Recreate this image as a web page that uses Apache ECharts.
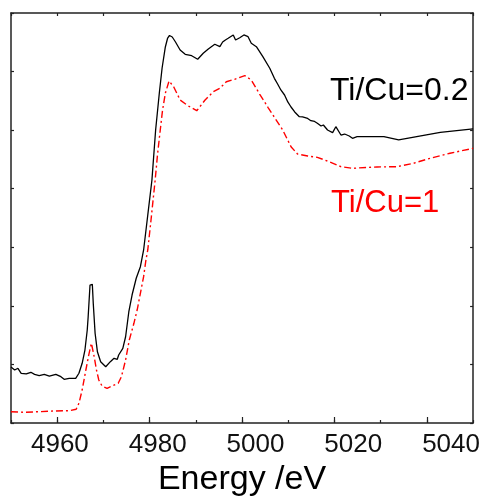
<!DOCTYPE html>
<html>
<head>
<meta charset="utf-8">
<script src="https://cdn.jsdelivr.net/npm/echarts@6/dist/echarts.min.js"></script>
<style>
html,body{margin:0;padding:0;background:#fff;}
#chart{width:483px;height:502px;}
</style>
</head>
<body>
<div id="chart"></div>
<script>
// Energy (eV) and normalized absorbance
const energyA = [4950.0,4950.8,4951.5,4952.2,4953.3,4954.3,4955.1,4956.1,4957.2,4958.3,4959.7,4960.8,4961.5,4962.6,4964.0,4964.7,4965.4,4966.0,4966.5,4966.7,4967.1,4967.6,4967.8,4968.2,4968.7,4969.4,4970.5,4971.5,4972.3,4973.0,4973.3,4974.2,4974.8,4975.5,4976.2,4977.1,4978.0,4978.7,4979.6,4980.5,4981.3,4982.1,4982.7,4983.4,4983.9,4984.3,4984.9,4985.6,4986.6,4987.7,4989.1,4990.4,4991.6,4992.7,4994.1,4995.2,4995.8,4996.4,4997.0,4997.4,4998.1,4998.6,4999.5,5000.4,5001.3,5002.0,5003.1,5004.5,5006.0,5007.0,5007.7,5008.4,5009.2,5009.9,5010.6,5011.4,5012.4,5013.1,5014.2,5014.9,5015.7,5016.3,5017.1,5017.6,5018.5,5019.6,5020.3,5021.4,5022.2,5023.2,5023.9,5024.9,5030.7,5033.9,5037.8,5042.9,5050.0];
const absA = [0.956,0.905,0.934,0.849,0.837,0.866,0.831,0.808,0.831,0.802,0.831,0.791,0.746,0.763,0.763,0.849,1.019,1.246,1.588,1.815,2.356,2.368,2.044,1.532,1.217,1.047,0.961,1.047,1.105,1.088,1.161,1.275,1.473,1.900,2.185,2.471,2.669,2.954,3.551,4.149,5.003,5.634,6.061,6.420,6.573,6.616,6.590,6.505,6.368,6.295,6.271,6.210,6.312,6.386,6.466,6.425,6.505,6.539,6.568,6.539,6.625,6.539,6.578,6.625,6.596,6.483,6.425,6.254,6.056,5.885,5.788,5.686,5.600,5.481,5.395,5.310,5.230,5.225,5.199,5.161,5.148,5.117,5.071,5.088,5.003,4.957,5.059,4.917,4.934,4.900,4.861,4.888,4.888,4.832,4.888,4.963,5.020];

const energyB = [4950.0,4952.9,4956.1,4959.4,4962.6,4964.1,4964.7,4965.4,4966.2,4966.9,4967.4,4967.6,4968.0,4968.5,4969.0,4969.7,4970.8,4971.9,4973.2,4973.9,4974.8,4975.6,4976.6,4977.3,4978.0,4978.7,4979.2,4979.6,4980.3,4981.2,4981.7,4982.3,4982.8,4983.4,4984.2,4985.2,4986.6,4988.4,4990.2,4992.0,4993.8,4995.2,4996.6,4998.4,5000.6,5002.0,5003.8,5005.6,5007.4,5008.8,5010.6,5012.0,5014.2,5016.3,5018.9,5021.4,5023.9,5029.2,5033.5,5037.1,5040.7,5045.0,5050.0];
const absB = [0.193,0.183,0.193,0.205,0.210,0.234,0.336,0.563,0.905,1.190,1.361,1.332,1.132,0.905,0.734,0.632,0.592,0.632,0.678,0.791,1.076,1.417,1.702,1.929,2.214,2.498,2.783,2.954,3.466,4.149,4.576,5.003,5.344,5.629,5.839,5.742,5.515,5.412,5.332,5.515,5.657,5.714,5.827,5.868,5.930,5.856,5.617,5.390,5.173,5.003,4.717,4.593,4.559,4.536,4.461,4.376,4.349,4.371,4.376,4.434,4.519,4.605,4.690];

const seriesNames = ['Ti/Cu=0.2', 'Ti/Cu=1'];
const majorTicks = [4960, 4980, 5000, 5020, 5040];
const tickLabels = [4960, 4980, 5000, 5020, 5040];
const xTitle = 'Energy /eV';

const FONT = 'Liberation Sans, Arial, Helvetica, sans-serif';
const AX = '#222';

const zip = (xs, ys) => xs.map((x, i) => [x, ys[i]]);

const chart = echarts.init(document.getElementById('chart'));
chart.setOption({
  animation: false,
  backgroundColor: '#fff',
  grid: { left: 11, right: 7, top: 13, bottom: 79 },
  xAxis: [
    {
      type: 'value', position: 'bottom', min: 4950, max: 5050, interval: 10,
      axisLine: { show: true, lineStyle: { color: AX, width: 1.5 } },
      axisTick: { show: true, inside: true, length: 3, lineStyle: { color: AX, width: 1.2 } },
      axisLabel: { show: false }, splitLine: { show: false },
      name: xTitle, nameLocation: 'middle', nameGap: 40,
      nameTextStyle: { fontSize: 34, color: '#000', fontFamily: FONT }
    },
    {
      type: 'value', position: 'bottom', min: 4950, max: 5050,
      axisLine: { show: false },
      axisTick: { show: true, inside: true, length: 6, customValues: majorTicks, lineStyle: { color: AX, width: 1.2 } },
      axisLabel: { show: false }, splitLine: { show: false }
    },
    {
      type: 'value', position: 'bottom', min: 4950, max: 5044.5,
      axisLine: { show: false }, axisTick: { show: false }, splitLine: { show: false },
      axisLabel: { show: true, customValues: tickLabels, fontSize: 26, margin: 9, color: '#111', fontFamily: FONT,
        formatter: v => String(Math.round(v)) }
    },
    {
      type: 'value', position: 'top', min: 4950, max: 5050, interval: 10,
      axisLine: { show: true, lineStyle: { color: AX, width: 1.5 } },
      axisTick: { show: true, inside: true, length: 3, lineStyle: { color: AX, width: 1.2 } },
      axisLabel: { show: false }, splitLine: { show: false }
    }
  ],
  yAxis: [
    {
      type: 'value', position: 'left', min: 0, max: 7, interval: 1,
      axisLine: { show: true, lineStyle: { color: AX, width: 1.5 } },
      axisTick: { show: true, inside: true, length: 3, lineStyle: { color: AX, width: 1.2 } },
      axisLabel: { show: false }, splitLine: { show: false }
    },
    {
      type: 'value', position: 'right', min: 0, max: 7, interval: 1,
      axisLine: { show: true, lineStyle: { color: AX, width: 1.5 } },
      axisTick: { show: true, inside: true, length: 3, lineStyle: { color: AX, width: 1.2 } },
      axisLabel: { show: false }, splitLine: { show: false }
    }
  ],
  series: [
    {
      name: seriesNames[0], type: 'line', xAxisIndex: 0, yAxisIndex: 0,
      data: zip(energyA, absA), showSymbol: false, symbol: 'none',
      lineStyle: { color: '#000', width: 1.3 }
    },
    {
      name: seriesNames[1], type: 'line', xAxisIndex: 0, yAxisIndex: 0,
      data: zip(energyB, absB), showSymbol: false, symbol: 'none',
      lineStyle: { color: '#ff0000', width: 1.4, type: [7, 3, 2, 3] }
    }
  ],
  graphic: [
    { type: 'text', left: 330, top: 75, style: { text: seriesNames[0], fill: '#000', font: '32px ' + FONT } },
    { type: 'text', left: 331, top: 188, style: { text: seriesNames[1], fill: '#ff0000', font: '31px ' + FONT } }
  ]
});
</script>
</body>
</html>
